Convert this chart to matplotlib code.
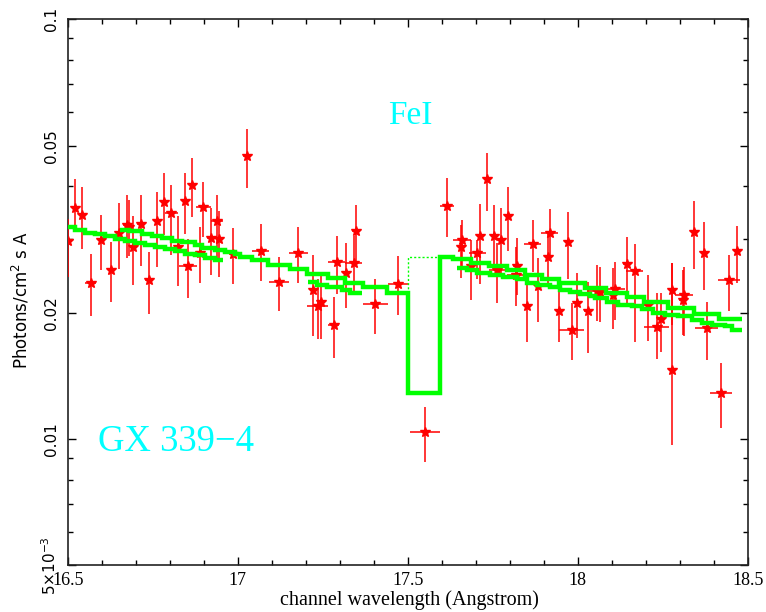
import numpy as np
import matplotlib
matplotlib.use('Agg')
import matplotlib.pyplot as plt
from matplotlib.ticker import FixedLocator, NullFormatter

# ── data points: wavelength, flux, error range, half bin width ───────────────
wave = [16.501, 16.522, 16.542, 16.568, 16.599, 16.628, 16.652, 16.674, 16.680, 16.692,
        16.715, 16.738, 16.764, 16.784, 16.805, 16.824, 16.846, 16.854, 16.866, 16.890,
        16.899, 16.921, 16.940, 16.946, 16.985, 17.026, 17.068, 17.122, 17.178, 17.221,
        17.235, 17.245, 17.282, 17.291, 17.319, 17.342, 17.349, 17.405, 17.471, 17.551,
        17.615, 17.660, 17.657, 17.686, 17.713, 17.705, 17.734, 17.755, 17.764, 17.775,
        17.796, 17.819, 17.821, 17.852, 17.868, 17.884, 17.918, 17.914, 17.945, 17.972,
        17.982, 17.997, 18.029, 18.056, 18.066, 18.110, 18.104, 18.144, 18.168, 18.206,
        18.232, 18.244, 18.278, 18.278, 18.312, 18.309, 18.342, 18.372, 18.379, 18.421,
        18.446, 18.469]
flux = [0.0297, 0.0356, 0.0341, 0.0235, 0.0298, 0.0253, 0.0310, 0.0324, 0.0320, 0.0287,
        0.0326, 0.0239, 0.0330, 0.0368, 0.0345, 0.0287, 0.0369, 0.0259, 0.0402, 0.0278,
        0.0357, 0.0302, 0.0331, 0.0300, 0.0276, 0.0473, 0.0281, 0.0237, 0.0277, 0.0226,
        0.0207, 0.0212, 0.0187, 0.0264, 0.0249, 0.0263, 0.0313, 0.0210, 0.0234, 0.0104,
        0.0360, 0.0298, 0.0287, 0.0258, 0.0304, 0.0277, 0.0416, 0.0304, 0.0253, 0.0298,
        0.0340, 0.0246, 0.0259, 0.0208, 0.0291, 0.0231, 0.0309, 0.0272, 0.0202, 0.0295,
        0.0182, 0.0211, 0.0202, 0.0225, 0.0224, 0.0228, 0.0220, 0.0261, 0.0252, 0.0209,
        0.0185, 0.0193, 0.0226, 0.0146, 0.0221, 0.0215, 0.0312, 0.0278, 0.0184, 0.0129,
        0.0239, 0.0280]
flux_lo = [0.0243, 0.0312, 0.0284, 0.0196, 0.0253, 0.0212, 0.0254, 0.0270, 0.0273, 0.0233,
           0.0259, 0.0199, 0.0257, 0.0307, 0.0275, 0.0232, 0.0308, 0.0217, 0.0338, 0.0236,
           0.0303, 0.0246, 0.0270, 0.0243, 0.0234, 0.0397, 0.0238, 0.0202, 0.0236, 0.0176,
           0.0173, 0.0173, 0.0156, 0.0222, 0.0205, 0.0224, 0.0264, 0.0178, 0.0197, 0.0088,
           0.0303, 0.0253, 0.0242, 0.0215, 0.0234, 0.0240, 0.0350, 0.0253, 0.0211, 0.0248,
           0.0281, 0.0207, 0.0221, 0.0170, 0.0250, 0.0190, 0.0272, 0.0233, 0.0170, 0.0240,
           0.0154, 0.0174, 0.0160, 0.0191, 0.0190, 0.0192, 0.0183, 0.0210, 0.0170, 0.0171,
           0.0155, 0.0161, 0.0187, 0.0097, 0.0176, 0.0177, 0.0254, 0.0227, 0.0154, 0.0106,
           0.0202, 0.0236]
flux_hi = [0.0335, 0.0417, 0.0399, 0.0276, 0.0342, 0.0295, 0.0365, 0.0382, 0.0371, 0.0340,
           0.0382, 0.0279, 0.0388, 0.0431, 0.0403, 0.0340, 0.0431, 0.0300, 0.0467, 0.0320,
           0.0410, 0.0355, 0.0382, 0.0350, 0.0319, 0.0548, 0.0326, 0.0272, 0.0320, 0.0275,
           0.0240, 0.0250, 0.0218, 0.0305, 0.0293, 0.0305, 0.0361, 0.0241, 0.0273, 0.0119,
           0.0419, 0.0333, 0.0324, 0.0298, 0.0363, 0.0298, 0.0481, 0.0361, 0.0293, 0.0355,
           0.0399, 0.0287, 0.0302, 0.0243, 0.0333, 0.0270, 0.0353, 0.0312, 0.0240, 0.0348,
           0.0211, 0.0249, 0.0237, 0.0260, 0.0257, 0.0264, 0.0256, 0.0303, 0.0292, 0.0246,
           0.0223, 0.0223, 0.0263, 0.0263, 0.0257, 0.0253, 0.0369, 0.0329, 0.0212, 0.0152,
           0.0275, 0.0322]
wave_err = [0.006, 0.008, 0.008, 0.016, 0.010, 0.008, 0.010, 0.010, 0.010, 0.010,
            0.010, 0.010, 0.008, 0.008, 0.020, 0.010, 0.008, 0.026, 0.008, 0.010,
            0.022, 0.010, 0.018, 0.010, 0.010, 0.010, 0.025, 0.030, 0.028, 0.008,
            0.030, 0.010, 0.015, 0.025, 0.010, 0.025, 0.012, 0.036, 0.030, 0.044,
            0.020, 0.026, 0.010, 0.010, 0.010, 0.026, 0.010, 0.010, 0.025, 0.010,
            0.010, 0.027, 0.010, 0.010, 0.025, 0.010, 0.025, 0.010, 0.010, 0.010,
            0.036, 0.010, 0.010, 0.030, 0.010, 0.028, 0.010, 0.010, 0.025, 0.010,
            0.036, 0.010, 0.010, 0.010, 0.026, 0.010, 0.010, 0.010, 0.035, 0.032,
            0.032, 0.010]

# ── model step curves (bin edges + values) ───────────────────────────────────
modA1_edges = [16.5, 16.522, 16.552, 16.581, 16.611, 16.640, 16.669, 16.699, 16.728,
               16.758, 16.787, 16.816, 16.846, 16.875, 16.905, 16.934, 16.956]
modA1_vals = [0.0320, 0.0315, 0.0310, 0.0308, 0.0304, 0.0300, 0.0297, 0.0293, 0.0290,
              0.0287, 0.0284, 0.0280, 0.0276, 0.0274, 0.0270, 0.0267]
modA2_edges = [17.208, 17.232, 17.262, 17.306, 17.330, 17.365]
modA2_vals = [0.0237, 0.0233, 0.0230, 0.0227, 0.0223]
modA3_edges = [17.645, 17.674, 17.703, 17.742, 17.781, 17.821, 17.850, 17.879, 17.918,
               17.947, 17.977, 18.007, 18.036, 18.051, 18.085, 18.119, 18.159, 18.188,
               18.222, 18.256, 18.296, 18.335, 18.365, 18.394, 18.433, 18.453, 18.484]
modA3_vals = [0.0255, 0.0253, 0.0249, 0.0246, 0.0243, 0.0240, 0.0236, 0.0233, 0.0230,
              0.0227, 0.0224, 0.0222, 0.0219, 0.0217, 0.0212, 0.0209, 0.0207, 0.0204,
              0.0200, 0.0198, 0.0196, 0.0192, 0.0189, 0.0187, 0.0186, 0.0182]
modB_edges = [16.655, 16.679, 16.719, 16.748, 16.777, 16.807, 16.836, 16.875, 16.895,
              16.934, 16.964, 16.992, 17.007, 17.041, 17.090, 17.154, 17.203, 17.266,
              17.316, 17.369, 17.438, 17.502, 17.595, 17.634, 17.686, 17.740, 17.791,
              17.845, 17.894, 17.946, 18.021, 18.082, 18.144, 18.196, 18.266, 18.343,
              18.416, 18.482]
modB_vals = [0.0315, 0.0313, 0.0308, 0.0304, 0.0301, 0.0297, 0.0294, 0.0290, 0.0286,
             0.0282, 0.0279, 0.0276, 0.0272, 0.0267, 0.0260, 0.0254, 0.0248, 0.0242,
             0.0236, 0.0230, 0.0223, 0.0129, 0.0272, 0.0268, 0.0263, 0.0258, 0.0253,
             0.0246, 0.0241, 0.0235, 0.0229, 0.0223, 0.0218, 0.0212, 0.0205, 0.0199,
             0.0193]
# model without the FeI edge across the gap (dotted)
edge_x = [17.502, 17.502, 17.595]
edge_y = [0.0223, 0.0272, 0.0272]

xticks = [16.5, 17, 17.5, 18, 18.5]
xticklabels = ['16.5', '17', '17.5', '18', '18.5']
yticks = [0.005, 0.01, 0.02, 0.05, 0.1]
yticklabels = ['5\u00d710$^{-3}$', '0.01', '0.02', '0.05', '0.1']

GREEN = '#00ff00'
CYAN = '#00ffff'
SERIF = ['Liberation Serif', 'DejaVu Serif']

fig = plt.figure(figsize=(7.66, 6.12), dpi=100)
ax = fig.add_axes([0.0884, 0.0760, 0.8877, 0.8925])

f = np.array(flux)
yerr = [f - np.array(flux_lo), np.array(flux_hi) - f]
ax.errorbar(wave, flux, yerr=yerr, xerr=wave_err, fmt='*', color='red', ms=7,
            mec='red', mfc='red', elinewidth=1.1, capsize=0, zorder=3)

for e, v in [(modA1_edges, modA1_vals), (modA2_edges, modA2_vals),
             (modA3_edges, modA3_vals), (modB_edges, modB_vals)]:
    ax.stairs(v, e, baseline=None, color=GREEN, lw=3.2, zorder=5)
ax.plot(edge_x, edge_y, color=GREEN, lw=1.0, ls=(0, (1.5, 1.5)), zorder=4)

ax.set_xlim(16.5, 18.5)
ax.set_yscale('log')
ax.set_ylim(0.005, 0.1)

ax.xaxis.set_major_locator(FixedLocator(xticks))
ax.set_xticklabels(xticklabels, family=SERIF, fontsize=13)
ax.xaxis.set_minor_locator(FixedLocator(np.arange(16.6, 18.45, 0.1)))
ax.yaxis.set_major_locator(FixedLocator(yticks))
minor_y = [0.006, 0.007, 0.008, 0.009, 0.03, 0.04, 0.06, 0.07, 0.08, 0.09]
ax.yaxis.set_minor_locator(FixedLocator(minor_y))
ax.yaxis.set_minor_formatter(NullFormatter())
ax.set_yticklabels(yticklabels, rotation=90, va='center', fontsize=11)

ax.tick_params(which='both', direction='in', top=True, right=True, width=1.0)
ax.tick_params(which='major', length=6)
ax.tick_params(which='minor', length=3.5)
ax.tick_params(axis='x', pad=5)
ax.tick_params(axis='y', pad=6)
for s in ax.spines.values():
    s.set_linewidth(1.2)
    s.set_color('#222222')

ax.text(17.442, 0.0562, 'FeI', color=CYAN, fontsize=24, family=SERIF)
ax.text(16.589, 0.00938, 'GX 339\u22124', color=CYAN, fontsize=26.5, family=SERIF)

fig.text(0.535, 1 - 600 / 612, 'channel wavelength (Angstrom)', ha='center', va='center',
         family=SERIF, fontsize=14.5)
fig.text(0.027, 1 - 300 / 612, 'Photons/cm$^2$ s A', rotation=90, ha='center',
         va='center', fontsize=12)

fig.savefig('out.png', dpi=100)
